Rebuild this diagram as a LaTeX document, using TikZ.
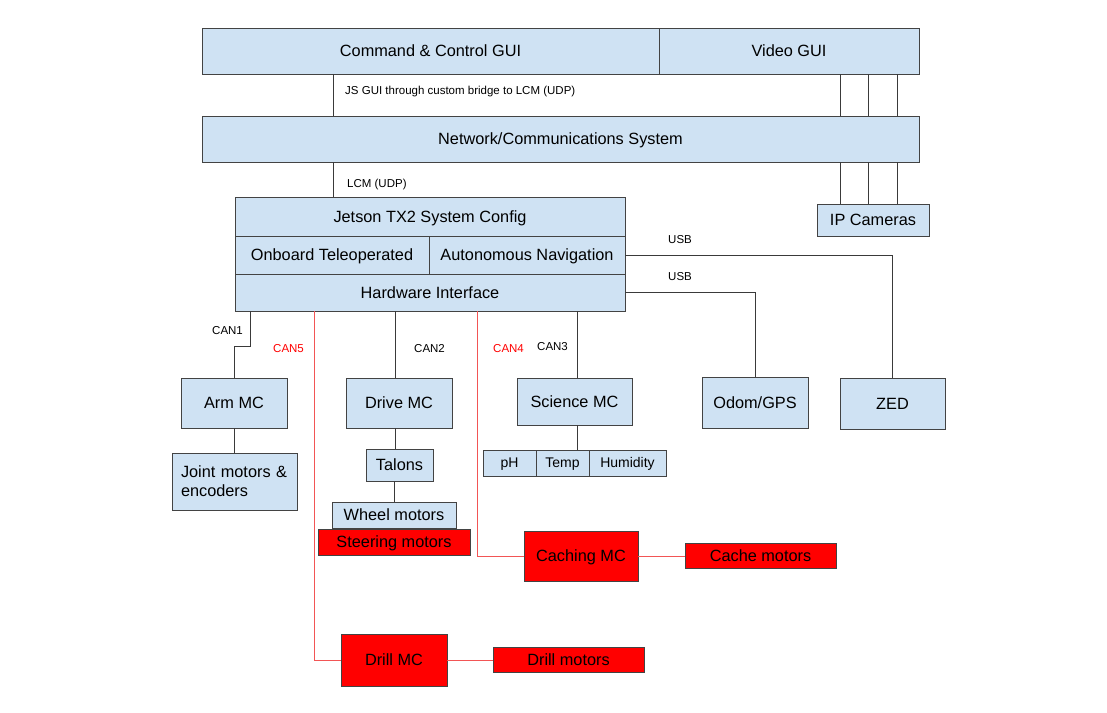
\documentclass[tikz,border=0pt]{standalone}
\usepackage{fontspec}
\setmainfont{Liberation Sans}
\definecolor{boxblue}{HTML}{CFE2F3}
\definecolor{boxline}{HTML}{434343}
\definecolor{wire}{HTML}{3A3A3A}
\definecolor{redfill}{HTML}{FF0000}
\definecolor{redwire}{HTML}{F25555}
\tikzset{
  box/.style={draw=boxline, line width=1pt, fill=boxblue, inner sep=0pt, outer sep=0pt, anchor=north west, font=\fontsize{16.3}{19}\selectfont, text=black, text height=11.2pt, text depth=0pt},
  redbox/.style={box, fill=redfill},
  sensor/.style={box, font=\fontsize{14}{16}\selectfont, text height=9.6pt},
  wireline/.style={draw=wire, line width=1pt},
  redline/.style={draw=redwire, line width=1pt},
  lbl/.style={anchor=west, inner sep=0pt, font=\fontsize{11.5}{13}\selectfont, text=black, text height=8.2pt, text depth=0pt},
  redlbl/.style={lbl, text=red}
}
\begin{document}
\begin{tikzpicture}[x=1pt,y=-1pt]
\fill[white] (0,0) rectangle (1107,712);
\useasboundingbox (0,0) rectangle (1107,712);
% top row
\node[box, minimum width=457pt, minimum height=46pt] (cc) at (202,28) {Command \& Control GUI};
\node[box, minimum width=260pt, minimum height=46pt] (vg) at (659,28) {Video GUI};
\node[box, minimum width=717pt, minimum height=46pt] (net) at (202,116) {Network/Communications System};
\node[box, minimum width=112pt, minimum height=32pt] (ipc) at (817,204) {IP Cameras};
% Jetson block
\node[box, minimum width=390pt, minimum height=39pt] (jet) at (235,197) {Jetson TX2 System Config};
\node[box, minimum width=194pt, minimum height=38pt] (onb) at (235,236) {Onboard Teleoperated};
\node[box, minimum width=196pt, minimum height=38pt] (aut) at (429,236) {Autonomous Navigation};
\node[box, minimum width=390pt, minimum height=37pt] (hw) at (235,274) {Hardware Interface};
% controllers
\node[box, minimum width=106pt, minimum height=50pt] (arm) at (181,378) {Arm MC};
\node[box, minimum width=125pt, minimum height=57pt, align=left, text width=107pt, text height=, text depth=] (joint) at (172,453) {Joint motors \&\\encoders};
\node[box, minimum width=106pt, minimum height=50pt] (drive) at (346,378) {Drive MC};
\node[box, minimum width=67pt, minimum height=32pt] (talons) at (366,449) {Talons};
\node[box, minimum width=124pt, minimum height=26pt] (wheel) at (332,502) {Wheel motors};
\node[redbox, minimum width=152pt, minimum height=26pt] (steer) at (318,529) {Steering motors};
\node[box, minimum width=115pt, minimum height=47pt] (sci) at (517,378) {Science MC};
\node[sensor, minimum width=53pt, minimum height=26pt] (ph) at (483,450) {pH};
\node[sensor, minimum width=53pt, minimum height=26pt] (temp) at (536,450) {Temp};
\node[sensor, minimum width=77pt, minimum height=26pt] (hum) at (589,450) {Humidity};
\node[box, minimum width=106pt, minimum height=51pt] (odom) at (702,377) {Odom/GPS};
\node[box, minimum width=105pt, minimum height=51pt] (zed) at (840,378) {ZED};
\node[redbox, minimum width=114pt, minimum height=50pt] (cach) at (524,531) {Caching MC};
\node[redbox, minimum width=151pt, minimum height=25pt] (cachm) at (685,543) {Cache motors};
\node[redbox, minimum width=106pt, minimum height=52pt] (drill) at (341,634) {Drill MC};
\node[redbox, minimum width=151pt, minimum height=25pt] (drillm) at (493,647) {Drill motors};
% helper coordinates
\coordinate (jsx) at (333,0);
\coordinate (v1) at (840,0);
\coordinate (v2) at (868,0);
\coordinate (v3) at (897,0);
\coordinate (c1a) at (250,0);
\coordinate (c1b) at (250,346);
\coordinate (c2) at (395,0);
\coordinate (c2b) at (394,0);
\coordinate (c3) at (577,0);
\coordinate (c4) at (477,0);
\coordinate (c5) at (314,0);
% connectors
\draw[wireline] (cc.south -| jsx) -- (net.north -| jsx);
\draw[wireline] (net.south -| jsx) -- (jet.north -| jsx);
\foreach \v in {v1,v2,v3}{
  \draw[wireline] (vg.south -| \v) -- (net.north -| \v);
  \draw[wireline] (net.south -| \v) -- (ipc.north -| \v);
}
\draw[wireline] (aut.east) -| (zed.north);
\draw[wireline] (hw.east) -| (odom.north);
\draw[wireline] (hw.south -| c1a) -- (c1b) -| (arm.north);
\draw[wireline] (arm.south) -- (joint.north -| arm.south);
\draw[wireline] (hw.south -| c2) -- (drive.north -| c2);
\draw[wireline] (drive.south -| c2) -- (talons.north -| c2);
\draw[wireline] (talons.south -| c2b) -- (wheel.north -| c2b);
\draw[wireline] (hw.south -| c3) -- (sci.north -| c3);
\draw[wireline] (sci.south -| c3) -- (temp.north -| c3);
\draw[redline] (hw.south -| c4) |- (cach.west);
\draw[redline] (hw.south -| c5) |- (drill.west);
\draw[redline] (cach.east) -- (cachm.west |- cach.east);
\draw[redline] (drill.east) -- (drillm.west |- drill.east);
% labels
\node[lbl] (ljs) at (345,90) {JS GUI through custom bridge to LCM (UDP)};
\node[lbl] (llcm) at (347,183) {LCM (UDP)};
\node[lbl] (lusb1) at (668,239) {USB};
\node[lbl] (lusb2) at (668,276) {USB};
\node[lbl] (lcan1) at (212,330) {CAN1};
\node[redlbl] (lcan5) at (273,348) {CAN5};
\node[lbl] (lcan2) at (414,348) {CAN2};
\node[redlbl] (lcan4) at (493,348) {CAN4};
\node[lbl] (lcan3) at (537,346) {CAN3};
\end{tikzpicture}
\end{document}
